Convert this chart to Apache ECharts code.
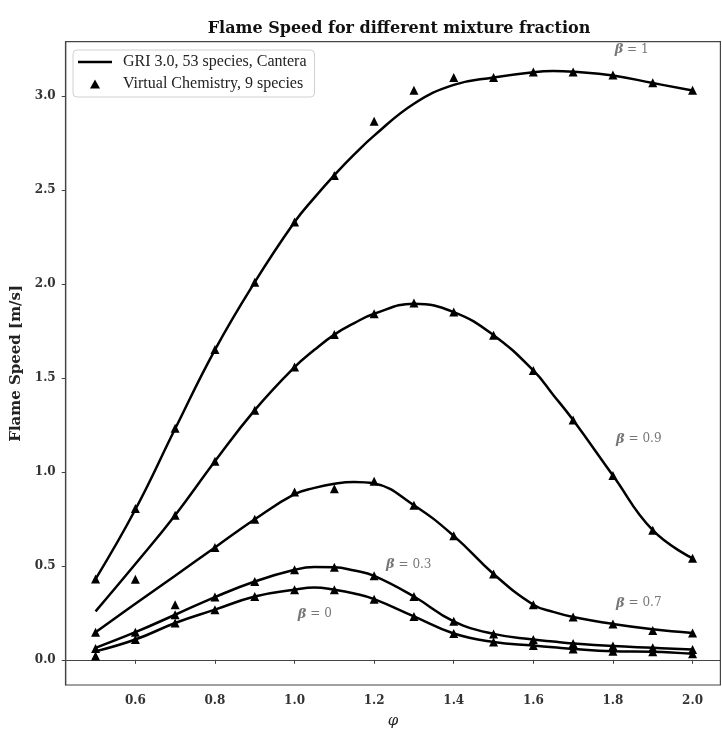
<!DOCTYPE html>
<html>
<head>
<meta charset="utf-8">
<script src="https://cdn.jsdelivr.net/npm/echarts@6/dist/echarts.min.js"></script>
<style>
  html, body { margin: 0; padding: 0; background: #fff; }
  #chart { width: 722px; height: 734px; }
</style>
</head>
<body>
<div id="chart"></div>
<script>
// ---- data ----
// Virtual Chemistry sample points (equivalence ratio phi)
const phi = [0.5, 0.6, 0.7, 0.8, 0.9, 1.0, 1.1, 1.2, 1.3, 1.4, 1.5, 1.6, 1.7, 1.8, 1.9, 2.0];
// GRI 3.0 reference curve points (finer near the peaks)
const griPhi = [0.5, 0.6, 0.7, 0.8, 0.9, 1.0, 1.05, 1.1, 1.15, 1.2, 1.3, 1.4, 1.5, 1.6, 1.65, 1.7, 1.8, 1.9, 2.0];

// GRI 3.0 (Cantera) flame speeds [m/s]
const griBeta1  = [0.43, 0.80, 1.23, 1.65, 2.01, 2.33, 2.46, 2.58, 2.69, 2.79, 2.96, 3.06, 3.10, 3.128, 3.134, 3.13, 3.11, 3.07, 3.03];
const griBeta09 = [0.258, 0.51, 0.77, 1.057, 1.329, 1.558, 1.650, 1.731, 1.792, 1.842, 1.895, 1.851, 1.728, 1.540, 1.41, 1.276, 0.981, 0.690, 0.540];
const griBeta07 = [0.147, 0.298, 0.448, 0.598, 0.748, 0.882, 0.915, 0.937, 0.946, 0.938, 0.823, 0.660, 0.457, 0.293, 0.255, 0.228, 0.191, 0.163, 0.143];
const griBeta03 = [0.064, 0.147, 0.240, 0.334, 0.417, 0.479, 0.494, 0.493, 0.475, 0.447, 0.337, 0.205, 0.138, 0.108, 0.097, 0.087, 0.073, 0.064, 0.055];
const griBeta0  = [0.045, 0.108, 0.196, 0.267, 0.337, 0.373, 0.385, 0.373, 0.353, 0.323, 0.231, 0.140, 0.095, 0.076, 0.067, 0.058, 0.046, 0.043, 0.032];

// Virtual Chemistry (9 species) flame speeds [m/s]
const vcBeta1  = [0.43, 0.805, 1.233, 1.652, 2.010, 2.331, 2.578, 2.866, 3.032, 3.099, 3.099, 3.129, 3.129, 3.113, 3.072, 3.032];
const vcBeta09 = [null, 0.429, 0.770, 1.057, 1.329, 1.558, 1.731, 1.842, 1.899, 1.851, 1.728, 1.540, 1.276, 0.981, 0.690, 0.540];
const vcBeta07 = [0.147, null, 0.293, 0.598, 0.748, 0.893, 0.911, 0.951, 0.823, 0.660, 0.457, 0.293, 0.228, 0.191, 0.156, 0.143];
const vcBeta03 = [0.060, 0.147, 0.240, 0.334, 0.417, 0.479, 0.493, 0.447, 0.337, 0.205, 0.138, 0.108, 0.087, 0.073, 0.064, 0.055];
const vcBeta0  = [0.020, 0.108, 0.196, 0.267, 0.337, 0.373, 0.373, 0.323, 0.231, 0.140, 0.095, 0.076, 0.058, 0.046, 0.043, 0.032];

// curve annotations and where they sit (phi, speed)
const betaLabels = ['1', '0.9', '0.7', '0.3', '0'];
const betaLabelAt = [[1.847, 3.249], [1.865, 1.174], [1.865, 0.301], [1.287, 0.507], [1.051, 0.242]];

// axis ticks
const xTicks = [0.6, 0.8, 1.0, 1.2, 1.4, 1.6, 1.8, 2.0];
const yTicks = [0.0, 0.5, 1.0, 1.5, 2.0, 2.5, 3.0];

const GRI_NAME = 'GRI 3.0, 53 species, Cantera';
const VC_NAME = 'Virtual Chemistry, 9 species';

const griSets = [griBeta1, griBeta09, griBeta07, griBeta03, griBeta0];
const vcSets = [vcBeta1, vcBeta09, vcBeta07, vcBeta03, vcBeta0];

const pairs = (xs, arr) => xs.map((x, i) => [x, arr[i]]).filter(p => p[1] !== null);

const serif = 'DejaVu Serif';
const series = [];
griSets.forEach(arr => {
  series.push({
    type: 'line', name: GRI_NAME, data: pairs(griPhi, arr),
    smooth: 0.45, symbol: 'none', showSymbol: false, z: 2,
    lineStyle: { color: '#000', width: 2.5 },
    itemStyle: { color: '#000' }
  });
});
vcSets.forEach(arr => {
  series.push({
    type: 'scatter', name: VC_NAME, data: pairs(phi, arr),
    symbol: 'triangle', symbolSize: 9, z: 3,
    itemStyle: { color: '#000', opacity: 1 }
  });
});
series.push({
  type: 'scatter', name: 'labels', silent: true, z: 4,
  symbolSize: 0,
  data: betaLabels.map((b, i) => ({ value: betaLabelAt[i], name: b })),
  label: {
    show: true, position: 'inside',
    formatter: p => '{b|β} = ' + p.name,
    color: '#555', fontFamily: serif, fontSize: 12,
    rich: { b: { fontWeight: 'bold', fontStyle: 'italic', fontFamily: serif, fontSize: 13, color: '#555' } }
  }
});

const chart = echarts.init(document.getElementById('chart'), null, { renderer: 'canvas' });
chart.setOption({
  animation: false,
  backgroundColor: '#fff',
  title: {
    text: 'Flame Speed for different mixture fraction',
    left: 394, top: 16, textAlign: 'center',
    textStyle: { fontFamily: serif, fontWeight: 'bold', fontSize: 16, color: '#111' }
  },
  grid: {
    left: 65.7, right: 1.6, top: 41.7, bottom: 45.3,
    show: true, borderColor: '#444', borderWidth: 1.2, backgroundColor: 'transparent'
  },
  legend: {
    data: [
      { name: GRI_NAME, icon: 'path://M0,0 L34,0 L34,2.6 L0,2.6 Z' },
      { name: VC_NAME, icon: 'path://M5,0 L10,9 L0,9 Z' }
    ],
    symbolKeepAspect: true,
    orient: 'vertical', left: 73, top: 50,
    itemWidth: 34, itemHeight: 9, itemGap: 4,
    padding: [3, 8, 4, 5],
    backgroundColor: 'rgba(255,255,255,0.85)',
    borderColor: '#d0d0d0', borderWidth: 1, borderRadius: 4,
    textStyle: { fontFamily: 'Liberation Serif', fontSize: 16, lineHeight: 18, color: '#222', padding: [0, 0, 0, 6] }
  },
  xAxis: {
    type: 'value', min: 0.425, max: 2.07,
    name: 'φ', nameLocation: 'middle', nameGap: 29,
    nameTextStyle: { fontFamily: serif, fontStyle: 'italic', fontSize: 15, color: '#222' },
    axisLine: { show: true, lineStyle: { color: '#444', width: 1.2 } },
    axisTick: { show: true, length: 4, customValues: xTicks, lineStyle: { color: '#444' } },
    axisLabel: {
      customValues: xTicks, margin: 10,
      formatter: v => v.toFixed(1),
      fontFamily: serif, fontWeight: 'bold', fontSize: 12, color: '#333'
    },
    splitLine: { show: false }
  },
  yAxis: {
    type: 'value', min: -0.134, max: 3.29,
    name: 'Flame Speed [m/s]', nameLocation: 'middle', nameGap: 37,
    nameTextStyle: { fontFamily: serif, fontWeight: 'bold', fontSize: 15, color: '#222' },
    axisLine: { show: true, lineStyle: { color: '#444', width: 1.2 } },
    axisTick: { show: true, length: 4, customValues: yTicks, lineStyle: { color: '#444' } },
    axisLabel: {
      customValues: yTicks, margin: 10,
      formatter: v => v.toFixed(1),
      fontFamily: serif, fontWeight: 'bold', fontSize: 12, color: '#333'
    },
    splitLine: { show: false }
  },
  series: series
});
</script>
</body>
</html>
